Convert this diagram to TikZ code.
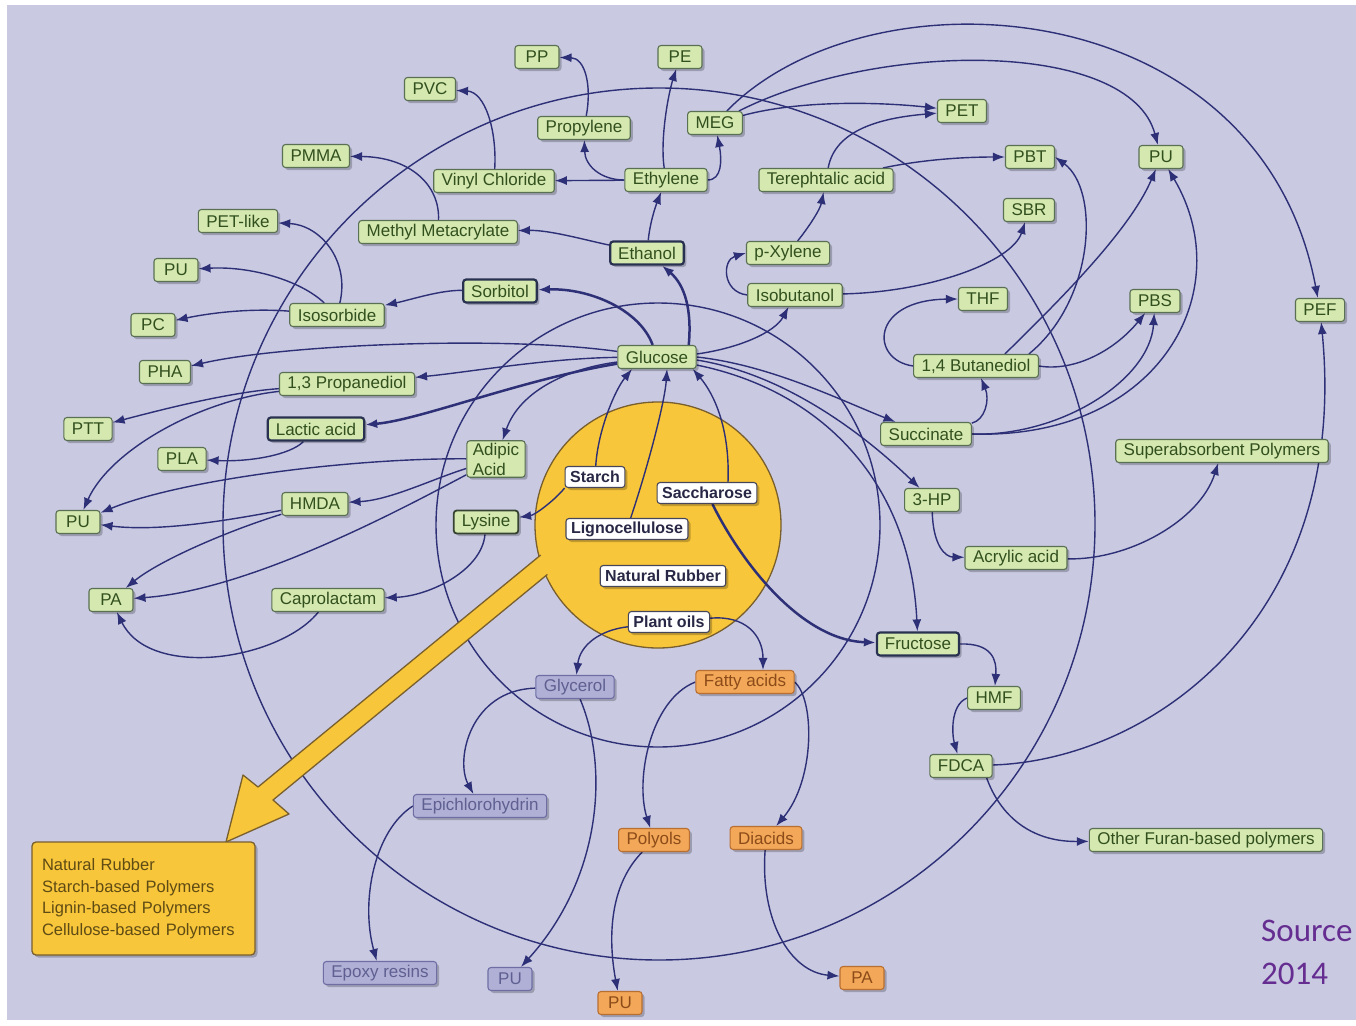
\documentclass[tikz,border=0pt]{standalone}
\usepackage{fontspec}
\setmainfont{Liberation Sans}
\newfontfamily\srcfont{Carlito}
\usetikzlibrary{arrows.meta,shadows}
\definecolor{bgc}{RGB}{201,201,226}
\definecolor{navy}{RGB}{45,48,118}
\definecolor{gfill}{RGB}{212,232,176}
\definecolor{gbord}{RGB}{90,112,82}
\definecolor{gtext}{RGB}{50,80,30}
\definecolor{dbord}{RGB}{40,50,80}
\definecolor{wbord}{RGB}{70,70,90}
\definecolor{wtext}{RGB}{40,40,70}
\definecolor{pfill}{RGB}{176,176,214}
\definecolor{pbord}{RGB}{110,110,165}
\definecolor{ptext}{RGB}{95,95,145}
\definecolor{ofill}{RGB}{242,168,88}
\definecolor{obord}{RGB}{185,110,50}
\definecolor{otext}{RGB}{140,75,25}
\definecolor{yel}{RGB}{248,198,58}
\definecolor{ybord}{RGB}{120,95,45}
\definecolor{ytext}{RGB}{95,75,20}
\definecolor{srccol}{RGB}{102,45,145}
\pgfdeclarelayer{bg}
\pgfsetlayers{bg,main}
\newcommand\nfont{\fontsize{17}{20}\selectfont}
\newcommand\wfont{\fontsize{16}{18}\selectfont\bfseries}
\tikzset{
 nodebase/.style={rectangle, rounded corners=3pt, line width=1.1pt, inner xsep=8pt, inner ysep=2pt,
   minimum height=23pt, minimum width=44pt, font=\nfont,
   drop shadow={shadow xshift=2.5pt,shadow yshift=-2.5pt,opacity=0.22,fill=black}},
 gbox/.style={nodebase, draw=gbord, fill=gfill, text=gtext},
 dbox/.style={gbox, draw=dbord, line width=2.2pt},
 wbox/.style={nodebase, draw=wbord, fill=white, text=wtext, font=\wfont, inner xsep=5pt, minimum width=0pt, minimum height=21pt},
 pbox/.style={nodebase, draw=pbord, fill=pfill, text=ptext},
 obox/.style={nodebase, draw=obord, fill=ofill, text=otext},
 conn/.style={draw=navy, line width=1.4pt, -{Latex[length=12pt,width=9pt]}},
 bconn/.style={conn, line width=2.5pt},
 ringline/.style={draw=navy, line width=1.4pt},
 srctext/.style={anchor=base west, inner sep=0pt, text=srccol, font=\srcfont\fontsize{33}{38}\selectfont},
}
\begin{document}
\begin{tikzpicture}[x=1pt,y=-1pt]
\useasboundingbox (0,0) rectangle (1356,1025);
% ---------- nodes ----------
\node[gbox] (pp) at (537,57) {PP};
\node[gbox] (pe) at (680,57) {PE};
\node[gbox] (pvc) at (430,89) {PVC};
\node[gbox] (propylene) at (584,128) {Propylene};
\node[gbox] (meg) at (715,123) {MEG};
\node[gbox] (pet) at (962,111) {PET};
\node[gbox] (pmma) at (316,156) {PMMA};
\node[gbox] (vinyl) at (494,181) {Vinyl Chloride};
\node[gbox] (ethylene) at (666,180) {Ethylene};
\node[gbox] (tere) at (826,180) {Terephtalic acid};
\node[gbox] (pbt) at (1030,157) {PBT};
\node[gbox] (puTR) at (1161,157) {PU};
\node[gbox] (sbr) at (1029,210) {SBR};
\node[gbox] (petlike) at (238,221) {PET-like};
\node[gbox] (mma) at (438,232) {Methyl Metacrylate};
\node[dbox] (ethanol) at (647,253) {Ethanol};
\node[gbox] (pxylene) at (788,253) {p-Xylene};
\node[gbox] (puL1) at (176,270) {PU};
\node[dbox] (sorbitol) at (500,291) {Sorbitol};
\node[gbox] (isobutanol) at (795,295) {Isobutanol};
\node[gbox] (thf) at (983,299) {THF};
\node[gbox] (pbs) at (1155,301) {PBS};
\node[gbox] (pef) at (1320,310) {PEF};
\node[gbox] (pc) at (153,325) {PC};
\node[gbox] (isosorbide) at (337,315) {Isosorbide};
\node[gbox] (glucose) at (657,357) {Glucose};
\node[gbox] (pha) at (165,372) {PHA};
\node[gbox] (prop13) at (347,384) {1,3 Propanediol};
\node[gbox] (bdo) at (976,366) {1,4 Butanediol};
\node[gbox] (ptt) at (88,429) {PTT};
\node[dbox] (lactic) at (316,429) {Lactic acid};
\node[gbox] (succinate) at (926,434) {Succinate};
\node[gbox, align=left, inner xsep=6pt] (adipic) at (496,459) {Adipic\\Acid};
\node[gbox] (sap) at (1222,451) {Superabsorbent Polymers};
\node[gbox] (pla) at (182,459) {PLA};
\node[wbox] (starch) at (595,477) {Starch};
\node[wbox] (saccharose) at (707,493) {Saccharose};
\node[gbox] (hmda) at (315,504) {HMDA};
\node[gbox] (hp3) at (932,500) {3-HP};
\node[gbox] (puL2) at (78,522) {PU};
\node[dbox, draw=gbord!60!black, line width=1.8pt] (lysine) at (486,522) {Lysine};
\node[wbox] (ligno) at (627,529) {Lignocellulose};
\node[gbox] (acrylic) at (1016,558) {Acrylic acid};
\node[wbox] (rubber) at (663,576) {Natural Rubber};
\node[gbox] (paL) at (111,600) {PA};
\node[gbox] (caprolactam) at (328,600) {Caprolactam};
\node[wbox] (plantoils) at (669,622) {Plant oils};
\node[dbox] (fructose) at (918,644) {Fructose};
\node[pbox] (glycerol) at (575,687) {Glycerol};
\node[obox] (fatty) at (745,682) {Fatty acids};
\node[gbox] (hmf) at (994,698) {HMF};
\node[gbox] (fdca) at (961,766) {FDCA};
\node[pbox] (epi) at (480,806) {Epichlorohydrin};
\node[obox] (polyols) at (654,840) {Polyols};
\node[obox] (diacids) at (766,838) {Diacids};
\node[gbox] (other) at (1206,840) {Other Furan-based polymers};
\node[pbox] (epoxy) at (380,973) {Epoxy resins};
\node[pbox] (puP) at (510,979) {PU};
\node[obox] (puO) at (620,1003) {PU};
\node[obox] (paO) at (862,978) {PA};
\node[draw=ybord, fill=yel, line width=1.3pt, rounded corners=4pt, minimum width=223pt,
      minimum height=113pt, text width=203pt, inner xsep=10pt, align=left, text=ytext,
      font=\fontsize{16.5}{21.5}\selectfont,
      drop shadow={shadow xshift=2.5pt,shadow yshift=-2.5pt,opacity=0.22,fill=black}]
      (legend) at (143.5,898.5) {Natural Rubber\\Starch-based Polymers\\Lignin-based Polymers\\Cellulose-based Polymers};
\node[srctext] (src1) at (1261,941) {Source};
\node[srctext] (src2) at (1261,984) {2014};
% ---------- background, rings, circle, arrow, connectors ----------
\begin{pgfonlayer}{bg}
\fill[white] (0,0) rectangle (1356,1025);
\fill[bgc] (7,5) rectangle (1356,1020);
\draw[ringline] (659,524) circle[radius=436pt];
\draw[ringline] (658,525) circle[radius=222pt];
\draw[draw=ybord, fill=yel, line width=1.3pt] (658,525) circle[radius=123pt];
\fill[yel] (565,535) -- (258,787) -- (243,775) -- (226,842) -- (289,814) -- (273,800) -- (582,546) -- cycle;
\draw[ybord, line width=1.3pt, line join=round] (540.7,555) -- (258,787) -- (243,775) -- (226,842) -- (289,814) -- (273,800) -- (547.4,574.4);
% top region
\draw[conn] (propylene) .. controls (592,85) and (585,58) .. (pp);
\draw[conn] (ethylene) .. controls (600,180) and (585,165) .. (propylene);
\draw[conn] (ethylene) .. controls (660,140) and (668,95) .. (pe);
\draw[conn] (ethylene.east) .. controls (722,180) and (722,160) .. (meg);
\draw[conn] (ethylene) -- (vinyl);
\draw[conn] (vinyl) .. controls (497,130) and (485,92) .. (pvc);
\draw[conn] (ethanol) .. controls (650,222) and (656,205) .. (ethylene);
\draw[conn] (ethanol) .. controls (585,240) and (550,230) .. (mma);
\draw[conn] (mma) .. controls (440,185) and (410,157) .. (pmma);
\draw[conn] (sorbitol) .. controls (440,290) and (410,300) .. (isosorbide);
\draw[conn] (isosorbide) .. controls (350,260) and (320,225) .. (petlike);
\draw[conn] (isosorbide) .. controls (300,280) and (250,266) .. (puL1);
\draw[conn] (isosorbide) .. controls (250,308) and (210,313) .. (pc);
\draw[bconn] (glucose) .. controls (640,310) and (590,288) .. (sorbitol);
\draw[bconn] ([xshift=-8pt]glucose.north east) .. controls (692,310) and (685,285) .. (ethanol);
\draw[conn] ([yshift=3pt]glucose.east) .. controls (740,348) and (775,332) .. (isobutanol);
\draw[conn] (isobutanol.west) .. controls (722,292) and (722,260) .. (pxylene.west);
\draw[conn] (pxylene) .. controls (808,228) and (820,210) .. (tere);
\draw[conn] (tere) .. controls (835,130) and (880,118) .. (pet);
\draw[conn] (meg) .. controls (800,100) and (880,102) .. (pet);
\draw[conn] (meg) .. controls (880,40) and (1130,40) .. (puTR);
\draw[conn] (meg) .. controls (870,-35) and (1260,-10) .. (pef);
\draw[conn] (tere) .. controls (930,158) and (975,157) .. (pbt);
\draw[conn] (isobutanol) .. controls (930,292) and (1012,262) .. (sbr);
% right region
\draw[conn] (bdo.west) .. controls (870,360) and (870,300) .. (thf.west);
\draw[conn] ([xshift=-10pt]bdo.north east) .. controls (1095,300) and (1100,190) .. (pbt.east);
\draw[conn] ([xshift=-34pt]bdo.north east) .. controls (1060,300) and (1130,230) .. (puTR);
\draw[conn] (bdo.east) .. controls (1075,372) and (1115,350) .. (pbs);
\draw[conn] (succinate) .. controls (985,420) and (990,400) .. (bdo);
\draw[conn] (succinate.east) .. controls (1060,437) and (1150,380) .. (pbs);
\draw[conn] (succinate.east) .. controls (1160,440) and (1240,290) .. (puTR);
\draw[conn] (glucose.east) .. controls (770,365) and (840,400) .. (succinate);
\draw[conn] ([yshift=-3pt]glucose.east) .. controls (790,375) and (870,440) .. (hp3);
\draw[conn] (glucose) .. controls (820,390) and (910,480) .. (fructose);
\draw[conn] (hp3) .. controls (933,545) and (945,557) .. (acrylic);
\draw[conn] (acrylic) .. controls (1130,560) and (1200,520) .. (sap);
\draw[bconn] (saccharose) .. controls (740,560) and (800,640) .. (fructose);
\draw[conn] (fructose.east) .. controls (992,643) and (997,660) .. (hmf);
\draw[conn] (hmf.west) .. controls (950,705) and (952,735) .. (fdca);
\draw[conn] (fdca) .. controls (1150,760) and (1350,620) .. (pef);
\draw[conn] ([xshift=-6pt]fdca.south east) .. controls (1000,815) and (1030,842) .. (other);
% centre
\draw[conn] (starch) .. controls (598,430) and (615,390) .. ([xshift=-25pt]glucose.south);
\draw[conn] (ligno) .. controls (650,460) and (665,400) .. ([xshift=10pt]glucose.south);
\draw[conn] ([xshift=21pt]saccharose.north) .. controls (730,430) and (715,395) .. ([xshift=-4pt]glucose.south east);
\draw[conn] (starch.south west) .. controls (555,500) and (535,515) .. (lysine);
\draw[conn] (lysine) .. controls (482,570) and (430,596) .. (caprolactam);
\draw[conn] (caprolactam) .. controls (280,660) and (150,680) .. (paL);
\draw[conn] (glucose) .. controls (570,368) and (520,390) .. (adipic);
\draw[bconn] (glucose) .. controls (520,380) and (420,420) .. (lactic);
\draw[conn] (glucose) .. controls (550,358) and (470,372) .. (prop13);
\draw[conn] (glucose) .. controls (500,335) and (280,345) .. (pha);
% left region
\draw[conn] (prop13) .. controls (230,392) and (160,410) .. (ptt);
\draw[conn] (prop13) .. controls (200,400) and (110,450) .. (puL2);
\draw[conn] (lactic) .. controls (290,455) and (250,462) .. (pla);
\draw[conn] (adipic) .. controls (350,458) and (180,480) .. (puL2);
\draw[conn] (adipic) .. controls (430,480) and (390,500) .. (hmda);
\draw[conn] (adipic) .. controls (400,510) and (250,590) .. (paL);
\draw[conn] (hmda) .. controls (230,520) and (160,532) .. (puL2);
\draw[conn] (hmda) .. controls (230,530) and (160,560) .. (paL);
% bottom region
\draw[conn] (plantoils) .. controls (600,630) and (580,645) .. (glycerol);
\draw[conn] (plantoils) .. controls (745,615) and (763,635) .. ([xshift=18pt]fatty.north);
\draw[conn] (glycerol) .. controls (470,690) and (455,760) .. (epi);
\draw[conn] (glycerol) .. controls (610,770) and (600,880) .. (puP);
\draw[conn] (epi.west) .. controls (375,830) and (360,900) .. (epoxy);
\draw[conn] (fatty.west) .. controls (650,700) and (635,780) .. (polyols);
\draw[conn] (fatty.east) .. controls (815,700) and (815,780) .. (diacids);
\draw[conn] (polyols) .. controls (605,890) and (610,950) .. (puO);
\draw[conn] (diacids) .. controls (760,920) and (790,972) .. (paO);
\end{pgfonlayer}
\end{tikzpicture}
\end{document}
